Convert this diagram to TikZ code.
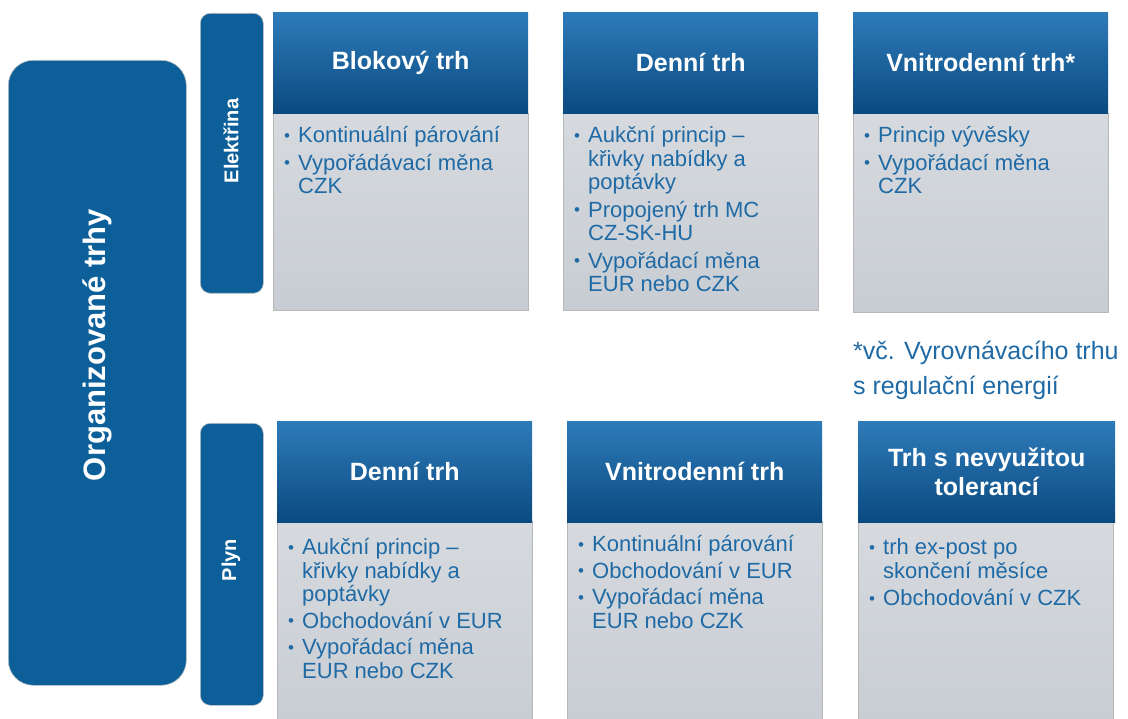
\documentclass[tikz,border=0pt]{standalone}
\usepackage{fontspec}
\setmainfont{Liberation Sans}
\definecolor{hdtop}{HTML}{2E7BB9}
\definecolor{hdbot}{HTML}{0A4A80}
\definecolor{side}{HTML}{0C5F99}
\definecolor{bodytop}{HTML}{D6DADF}
\definecolor{bodybot}{HTML}{C8CDD3}
\definecolor{txt}{HTML}{1F6AA5}
\newcommand\bul{\raisebox{1.5pt}{\fontsize{17}{17}\selectfont •}}
\tikzset{
  sidebox/.style={fill=side, draw=black!25, line width=0.6pt, rounded corners=#1, anchor=north west, inner sep=0pt},
  sidelabel/.style={text=white, font=\bfseries\fontsize{20}{22}\selectfont, rotate=90, inner sep=0pt},
  hdr/.style={top color=hdtop, bottom color=hdbot, draw=none, text=white,
    font=\bfseries\fontsize{25}{29}\selectfont, align=center, anchor=north west, inner sep=0pt,
    minimum width=255pt, minimum height=101pt},
  bod/.style={top color=bodytop, bottom color=bodybot, draw=black!28, line width=0.7pt,
    anchor=north west, inner sep=0pt, minimum width=255pt},
  items/.style={anchor=north west, text=txt, font=\fontsize{22}{23.5}\selectfont, inner sep=0pt},
  foot/.style={anchor=north west, text=txt, font=\fontsize{25}{35}\selectfont, align=left, inner sep=0pt},
}
\begin{document}
\begin{tikzpicture}[x=1pt,y=-1pt]
\useasboundingbox (0,0) rectangle (1128,719);
% side boxes
\node[sidebox=25pt, minimum width=178pt, minimum height=625pt] (org) at (8,60) {};
\node[sidelabel, font=\bfseries\fontsize{31}{34}\selectfont] (orgt) at (97,345) {Organizované trhy};
\node[sidebox=10pt, minimum width=63pt, minimum height=280pt] (el) at (200,13) {};
\node[sidelabel] (elt) at (231,141) {Elektřina};
\node[sidebox=10pt, minimum width=63pt, minimum height=282pt] (pl) at (200,423) {};
\node[sidelabel] (plt) at (231,560) {Plyn};
% electricity cards
\node[bod, minimum height=197pt] (eb1) at (273,113) {};
\node[hdr] (eh1) at (273,12) {Blokový trh};
\node[items] (et1) at ([xshift=11pt,yshift=-13pt]eb1.north west) {\begin{tabular}{@{}p{14pt}@{}l@{}}
\bul & Kontinuální párování\\[4pt]
\bul & Vypořádávací měna\\
 & CZK
\end{tabular}};
\node[bod, minimum height=197pt] (eb2) at (563,113) {};
\node[hdr] (eh2) at (563,12) {Denní trh};
\node[items] (et2) at ([xshift=11pt,yshift=-13pt]eb2.north west) {\begin{tabular}{@{}p{14pt}@{}l@{}}
\bul & Aukční princip –\\
 & křivky nabídky a\\
 & poptávky\\[4pt]
\bul & Propojený trh MC\\
 & CZ-SK-HU\\[4pt]
\bul & Vypořádací měna\\
 & EUR nebo CZK
\end{tabular}};
\node[bod, minimum height=199pt] (eb3) at (853,113) {};
\node[hdr] (eh3) at (853,12) {Vnitrodenní trh*};
\node[items] (et3) at ([xshift=11pt,yshift=-13pt]eb3.north west) {\begin{tabular}{@{}p{14pt}@{}l@{}}
\bul & Princip vývěsky\\[4pt]
\bul & Vypořádací měna\\
 & CZK
\end{tabular}};
\node[foot] (fn) at (853,341) {*vč. Vyrovnávacího trhu\\s regulační energií};
% gas cards
\node[bod, minimum height=210pt] (gb1) at (277,521) {};
\node[hdr] (gh1) at (277,421) {Denní trh};
\node[items] (gt1) at ([xshift=11pt,yshift=-17pt]gb1.north west) {\begin{tabular}{@{}p{14pt}@{}l@{}}
\bul & Aukční princip –\\
 & křivky nabídky a\\
 & poptávky\\[3pt]
\bul & Obchodování v EUR\\[3pt]
\bul & Vypořádací měna\\
 & EUR nebo CZK
\end{tabular}};
\node[bod, minimum height=210pt] (gb2) at (567,521) {};
\node[hdr] (gh2) at (567,421) {Vnitrodenní trh};
\node[items] (gt2) at ([xshift=11pt,yshift=-14pt]gb2.north west) {\begin{tabular}{@{}p{14pt}@{}l@{}}
\bul & Kontinuální párování\\[3pt]
\bul & Obchodování v EUR\\[3pt]
\bul & Vypořádací měna\\
 & EUR nebo CZK
\end{tabular}};
\node[bod, minimum height=210pt] (gb3) at (858,521) {};
\node[hdr, minimum width=257pt] (gh3) at (858,421) {Trh s nevyužitou\\tolerancí};
\node[items] (gt3) at ([xshift=11pt,yshift=-17pt]gb3.north west) {\begin{tabular}{@{}p{14pt}@{}l@{}}
\bul & trh ex-post po\\
 & skončení měsíce\\[4pt]
\bul & Obchodování v CZK
\end{tabular}};
\end{tikzpicture}
\end{document}
